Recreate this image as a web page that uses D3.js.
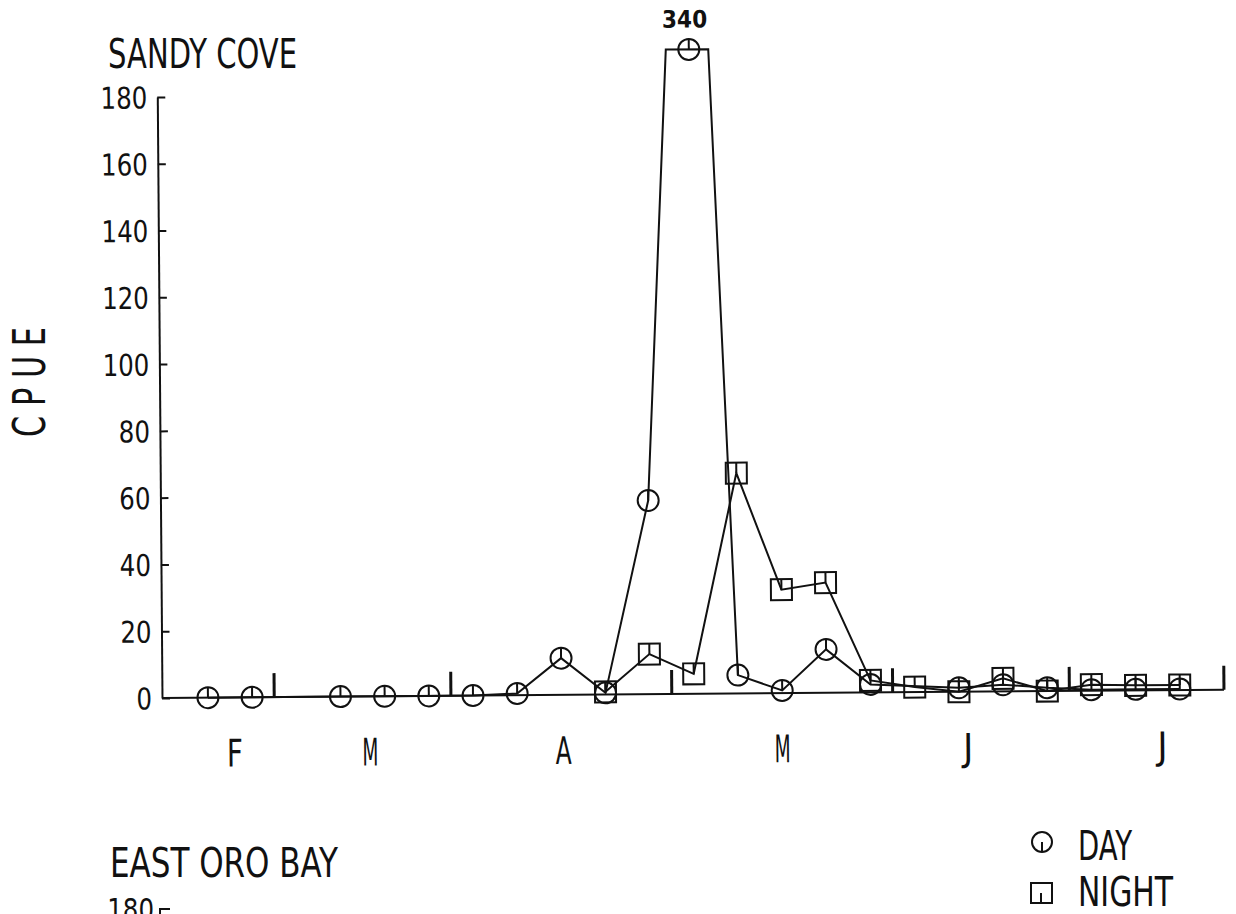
<!DOCTYPE html>
<html>
<head>
<meta charset="utf-8">
<script src="https://cdn.jsdelivr.net/npm/d3@7"></script>
<style>
  body { margin: 0; background: #fff; }
  text { font-family: "DejaVu Sans Condensed", "Liberation Sans Narrow", "DejaVu Sans", sans-serif; fill: #111; }
</style>
</head>
<body>
<script>
// sample number along the season (weekly sampling, sample 2 missing)
const sampleIdx = [0, 1, 2, 3, 4, 5, 6, 7, 8, 9, 10, 11, 12, 13, 14, 15, 16, 17, 18, 19, 20, 21, 22];
const dayCpue   = [0, 0, null, 0, 0, 0, 0, 0.5, 11, 0.5, 58, 340, 5.5, 0.8, 13, 2.4, null, 1.2, 2, 1, 0.3, 0.3, 0.3];
const nightCpue = [null, null, null, null, null, null, null, null, null, 0.8, 12, 6, 66, 31, 33, 3.6, 1.5, 0, 3.9, 0, 1.8, 1.5, 1.5];

const months = ['F', 'M', 'A', 'M', 'J', 'J'];
const monthLabelAt = [0.6, 3.67, 8.04, 13, 17.2, 21.6];   // in sample units
const monthBreaks = [1.5, 5.5, 10.5, 15.5, 19.5, 23];
const yTicks = [0, 20, 40, 60, 80, 100, 120, 140, 160, 180];
const capValue = 193;   // values above this are drawn at the top edge
const peakLabel = '340';

const width = 1236, height = 914;
const axisX = 162, axisY = 698;

const x = d3.scaleLinear().domain([-1.04, 23]).range([axisX, 1224]);
const y = d3.scaleLinear().domain([0, 180]).range([axisY, 97]);

const svg = d3.select('body').append('svg')
    .attr('width', width)
    .attr('height', height);

// squeeze text to the narrow plotter lettering (only ever shrinks)
const fit = (sel, perChar) => sel.each(function () {
    const target = this.textContent.length * perChar;
    if (this.getComputedTextLength() > target) {
        d3.select(this)
            .attr('textLength', target)
            .attr('lengthAdjust', 'spacingAndGlyphs');
    }
});

// the scanned page is slightly rotated
const g = svg.append('g').attr('transform', `rotate(-0.45, ${axisX}, ${axisY})`);

// y axis, ticks pointing inward
const yAxis = g.append('g')
    .attr('transform', `translate(${axisX},0)`)
    .call(d3.axisLeft(y).tickValues(yTicks).tickSizeInner(-8).tickSizeOuter(0).tickPadding(10));
yAxis.attr('font-family', null).attr('font-size', null);
yAxis.select('.domain').attr('stroke', '#111').attr('stroke-width', 2);
yAxis.selectAll('.tick line').attr('stroke', '#111').attr('stroke-width', 2);
yAxis.selectAll('.tick text').attr('font-size', 30).attr('dy', '0.36em').call(fit, 15.6);

// x axis baseline and month boundaries
g.append('line')
    .attr('x1', x.range()[0]).attr('x2', x.range()[1])
    .attr('y1', y(0)).attr('y2', y(0))
    .attr('stroke', '#111').attr('stroke-width', 2);

g.selectAll('.brk').data(monthBreaks).join('line')
    .attr('x1', d => x(d)).attr('x2', d => x(d))
    .attr('y1', y(0)).attr('y2', y(0) - 24)
    .attr('stroke', '#111').attr('stroke-width', 3);

g.selectAll('.mon').data(months).join('text')
    .attr('x', (d, i) => x(monthLabelAt[i]))
    .attr('y', 767)
    .attr('text-anchor', 'middle')
    .attr('font-size', 38)
    .text(d => d)
    .call(fit, 16);

// build the series, clipping anything above the cap at the top edge
const series = vals => sampleIdx.map((k, i) => ({ k, v: vals[i] })).filter(d => d.v !== null);
const capPath = pts => {
    const out = [];
    pts.forEach((p, i) => {
        if (p.v <= capValue) { out.push(p); return; }
        const prev = pts[i - 1], next = pts[i + 1];
        if (prev && prev.v <= capValue) {
            const t = (capValue - prev.v) / (p.v - prev.v);
            out.push({ k: prev.k + t * (p.k - prev.k), v: capValue });
        }
        if (next && next.v <= capValue) {
            const t = (p.v - capValue) / (p.v - next.v);
            out.push({ k: p.k + t * (next.k - p.k), v: capValue });
        }
    });
    return out;
};

const day = series(dayCpue);
const night = series(nightCpue);

const line = d3.line().x(d => x(d.k)).y(d => y(d.v));

g.append('path').datum(capPath(day))
    .attr('d', line).attr('fill', 'none').attr('stroke', '#111').attr('stroke-width', 2);
g.append('path').datum(capPath(night))
    .attr('d', line).attr('fill', 'none').attr('stroke', '#111').attr('stroke-width', 2);

const r = 10.5;
const cy = d => y(Math.min(d.v, capValue));

// night markers: squares
const nm = g.selectAll('.night').data(night).join('g');
nm.append('rect')
    .attr('x', d => x(d.k) - r).attr('y', d => cy(d) - r)
    .attr('width', 2 * r).attr('height', 2 * r)
    .attr('fill', 'none').attr('stroke', '#111').attr('stroke-width', 2);
nm.append('line')
    .attr('x1', d => x(d.k)).attr('x2', d => x(d.k))
    .attr('y1', d => cy(d)).attr('y2', d => cy(d) - r)
    .attr('stroke', '#111').attr('stroke-width', 2);

// day markers: circles
const dm = g.selectAll('.day').data(day).join('g');
dm.append('circle')
    .attr('cx', d => x(d.k)).attr('cy', cy).attr('r', r)
    .attr('fill', 'none').attr('stroke', '#111').attr('stroke-width', 2);
dm.append('line')
    .attr('x1', d => x(d.k)).attr('x2', d => x(d.k))
    .attr('y1', d => cy(d)).attr('y2', d => cy(d) - r)
    .attr('stroke', '#111').attr('stroke-width', 2);

// value of the off-scale peak
const peak = day.find(d => d.v > capValue);
g.append('text')
    .attr('x', x(peak.k) - 4)
    .attr('y', cy(peak) - 22)
    .attr('text-anchor', 'middle')
    .attr('font-family', 'DejaVu Sans, sans-serif')
    .attr('font-weight', 'bold')
    .attr('font-size', 24)
    .text(peakLabel);

// titles and axis label
svg.append('text').attr('x', 108).attr('y', 68).attr('font-size', 41)
    .text('SANDY COVE').call(fit, 18.9);

svg.append('text')
    .attr('transform', 'translate(45,382) rotate(-90)')
    .attr('text-anchor', 'middle')
    .attr('font-size', 44)
    .text('C P U E')
    .attr('textLength', 110).attr('lengthAdjust', 'spacingAndGlyphs');

svg.append('text').attr('x', 110).attr('y', 877).attr('font-size', 41)
    .text('EAST ORO BAY').call(fit, 19);

// top of the next panel's axis (cut by the page edge, as in the original)
svg.append('text').attr('x', 154).attr('y', 920).attr('text-anchor', 'end').attr('font-size', 30)
    .text(yTicks[yTicks.length - 1]).call(fit, 15.6);
svg.append('path').attr('d', 'M160,940V909H170')
    .attr('fill', 'none').attr('stroke', '#111').attr('stroke-width', 2);

// legend
const lg = svg.append('g');
lg.append('circle').attr('cx', 1042).attr('cy', 842).attr('r', 10)
    .attr('fill', 'none').attr('stroke', '#111').attr('stroke-width', 2);
lg.append('line').attr('x1', 1042).attr('x2', 1042).attr('y1', 842).attr('y2', 852)
    .attr('stroke', '#111').attr('stroke-width', 2);
lg.append('text').attr('x', 1078).attr('y', 860).attr('font-size', 41).text('DAY').call(fit, 18);
lg.append('rect').attr('x', 1031).attr('y', 883).attr('width', 21).attr('height', 20)
    .attr('fill', 'none').attr('stroke', '#111').attr('stroke-width', 2);
lg.append('line').attr('x1', 1041).attr('x2', 1041).attr('y1', 893).attr('y2', 903)
    .attr('stroke', '#111').attr('stroke-width', 2);
lg.append('text').attr('x', 1078).attr('y', 906).attr('font-size', 40).text('NIGHT').call(fit, 19);
</script>
</body>
</html>
